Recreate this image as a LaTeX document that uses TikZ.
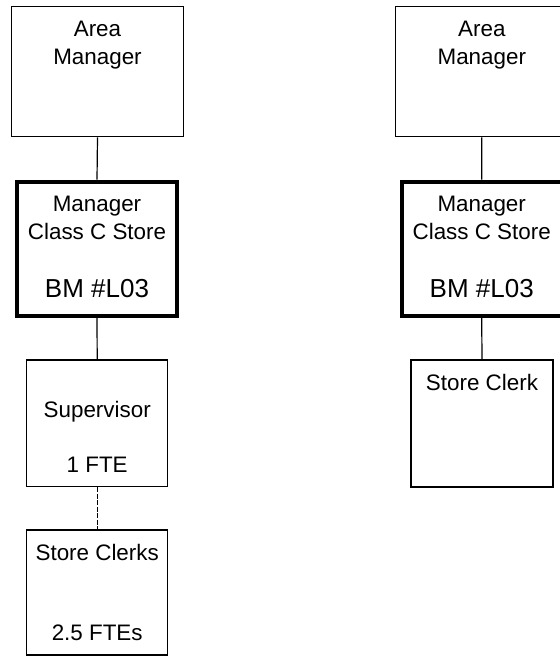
\documentclass[tikz,border=0pt]{standalone}
\usepackage{fontspec}
\setmainfont{Liberation Sans}
\usetikzlibrary{positioning}

\begin{document}
\begin{tikzpicture}[
  x=0.5pt, y=-0.5pt,
  box/.style={draw, line width=0.6pt, inner sep=0pt},
  bossbox/.style={draw, line width=2pt, inner sep=0pt},
  txt/.style={inner sep=0pt, align=center, font=\fontsize{11.2}{14}\selectfont},
  bigtxt/.style={inner sep=0pt, font=\fontsize{13}{15}\selectfont},
  link/.style={line width=0.6pt},
  dotlink/.style={line width=0.6pt, dash pattern=on 2.5pt off 0.75pt}
]
\useasboundingbox (0,0) rectangle (559,656);

% left chart
\node[box, minimum width=86pt, minimum height=65pt] (area1) at (97.5,71.7) {};
\node[bossbox, minimum width=80pt, minimum height=67pt] (mgr1) at (97,248.6) {};
\node[box, minimum width=70.5pt, minimum height=63.3pt] (sup1) at (97.2,423.3) {};
\node[box, minimum width=70.5pt, minimum height=62.5pt] (clerks1) at (97.2,592.5) {};

\node[txt, below=7.5pt of area1.north] (area1t) {Area\\Manager};
\node[txt, below=7.9pt of mgr1.north] (mgr1t) {Manager\\Class C Store};
\node[bigtxt, above=9.5pt of mgr1.south] (mgr1b) {BM \#L03};
\node[txt, below=20.75pt of sup1.north] (sup1t) {Supervisor};
\node[txt, above=7.25pt of sup1.south] (sup1b) {1 FTE};
\node[txt, below=7.25pt of clerks1.north] (clerks1t) {Store Clerks};
\node[txt, above=7.25pt of clerks1.south] (clerks1b) {2.5 FTEs};

\draw[link] (area1.south) -- (mgr1.north);
\draw[link] (mgr1.south) -- (sup1.north);
\draw[dotlink] (sup1.south) -- (clerks1.north);

% right chart
\node[box, minimum width=86pt, minimum height=65pt] (area2) at (481.8,71.7) {};
\node[bossbox, minimum width=80pt, minimum height=67pt] (mgr2) at (481.7,248.6) {};
\node[box, minimum width=71pt, minimum height=63.5pt] (clerk2) at (482,423.5) {};

\node[txt, below=7.5pt of area2.north] (area2t) {Area\\Manager};
\node[txt, below=7.9pt of mgr2.north] (mgr2t) {Manager\\Class C Store};
\node[bigtxt, above=9.5pt of mgr2.south] (mgr2b) {BM \#L03};
\node[txt, below=7.25pt of clerk2.north] (clerk2t) {Store Clerk};

\draw[link] (area2.south) -- (mgr2.north);
\draw[link] (mgr2.south) -- (clerk2.north);
\end{tikzpicture}
\end{document}
